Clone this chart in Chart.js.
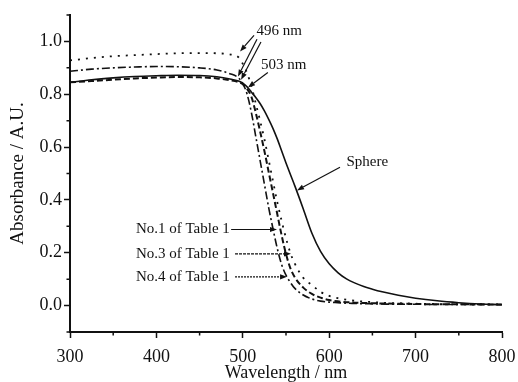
<!DOCTYPE html>
<html>
<head>
<meta charset="utf-8">
<script src="https://cdn.jsdelivr.net/npm/chart.js@4/dist/chart.umd.min.js"></script>
<style>
  html, body { margin: 0; padding: 0; background: #fff; }
  canvas { display: block; }
</style>
</head>
<body>
<canvas id="chart" width="518" height="382"></canvas>
<script>
// --- data ---
const wavelength = [300, 325, 350, 375, 400, 425, 450, 470, 485, 495, 500, 505, 510, 515, 520, 525, 530, 535, 540, 545, 550, 555, 560, 570, 580, 590, 600, 610, 620, 630, 640, 650, 660, 680, 700, 725, 750, 775, 800];

const sphere = [0.845, 0.855, 0.862, 0.867, 0.870, 0.872, 0.871, 0.866, 0.858, 0.850, 0.842, 0.828, 0.808, 0.788, 0.765, 0.737, 0.705, 0.670, 0.630, 0.585, 0.540, 0.497, 0.455, 0.366, 0.274, 0.205, 0.158, 0.125, 0.101, 0.085, 0.072, 0.062, 0.053, 0.039, 0.028, 0.018, 0.011, 0.006, 0.003];
const no1 = [0.845, 0.850, 0.855, 0.860, 0.863, 0.865, 0.864, 0.860, 0.853, 0.846, 0.838, 0.820, 0.790, 0.730, 0.660, 0.585, 0.505, 0.425, 0.345, 0.265, 0.195, 0.142, 0.108, 0.068, 0.044, 0.030, 0.021, 0.016, 0.013, 0.011, 0.010, 0.009, 0.008, 0.007, 0.006, 0.005, 0.005, 0.004, 0.004];
const no3 = [0.928, 0.937, 0.944, 0.948, 0.952, 0.955, 0.956, 0.955, 0.951, 0.940, 0.915, 0.880, 0.830, 0.765, 0.700, 0.630, 0.550, 0.470, 0.390, 0.320, 0.255, 0.200, 0.160, 0.105, 0.078, 0.052, 0.037, 0.028, 0.022, 0.018, 0.015, 0.013, 0.011, 0.009, 0.007, 0.006, 0.005, 0.005, 0.004];
const no4 = [0.887, 0.895, 0.900, 0.903, 0.905, 0.904, 0.900, 0.892, 0.878, 0.862, 0.840, 0.800, 0.730, 0.640, 0.550, 0.460, 0.370, 0.290, 0.215, 0.155, 0.115, 0.088, 0.066, 0.040, 0.025, 0.017, 0.013, 0.011, 0.009, 0.008, 0.007, 0.0065, 0.006, 0.005, 0.005, 0.004, 0.004, 0.004, 0.004];

const xTicks = [300, 400, 500, 600, 700, 800];
const xMinor = [350, 450, 550, 650, 750];
const yTicks = [0.0, 0.2, 0.4, 0.6, 0.8, 1.0];
const yMinor = [-0.1, 0.1, 0.3, 0.5, 0.7, 0.9, 1.1];

const FONT = 'Liberation Serif, Times New Roman, serif';
const INK = '#111';

function pts(ys) {
  return wavelength.map((x, i) => ({ x: x, y: ys[i] }));
}

// minor ticks (Chart.js has none of its own)
const minorTicks = {
  id: 'minorTicks',
  afterDraw(chart) {
    const c = chart.ctx, xs = chart.scales.x, ys = chart.scales.y;
    const a = chart.chartArea;
    c.save();
    c.strokeStyle = INK;
    c.lineWidth = 1.5;
    c.beginPath();
    xMinor.forEach(v => {
      const p = xs.getPixelForValue(v);
      c.moveTo(p, a.bottom); c.lineTo(p, a.bottom + 3.5);
    });
    yMinor.forEach(v => {
      const p = ys.getPixelForValue(v);
      c.moveTo(a.left, p); c.lineTo(a.left - 3.5, p);
    });
    c.stroke();
    c.restore();
  }
};

// labels and arrows, placed in data units
const notes = [
  { text: '496 nm', x: 516, y: 1.038 },
  { text: '503 nm', x: 521, y: 0.909 },
  { text: 'Sphere', x: 620, y: 0.543 },
  { text: 'No.1 of Table 1', x: 485, y: 0.288, right: true },
  { text: 'No.3 of Table 1', x: 485, y: 0.196, right: true },
  { text: 'No.4 of Table 1', x: 485, y: 0.109, right: true }
];
const arrows = [
  { from: [513, 1.023], to: [496.8, 0.962] },
  { from: [516.4, 1.008], to: [494.4, 0.867] },
  { from: [521, 0.998], to: [498, 0.855] },
  { from: [529, 0.882], to: [506, 0.826] },
  { from: [612.5, 0.524], to: [562.7, 0.436] },
  { from: [486.5, 0.288], to: [539.6, 0.288] },
  { from: [491, 0.196], to: [555.8, 0.196], dash: [3, 1] },
  { from: [491, 0.109], to: [551.2, 0.109], dash: [2, 1] }
];

const annotate = {
  id: 'annotate',
  afterDraw(chart) {
    const c = chart.ctx, xs = chart.scales.x, ys = chart.scales.y;
    c.save();
    c.fillStyle = INK;
    c.strokeStyle = INK;
    c.font = '15px ' + FONT;
    c.textBaseline = 'middle';
    notes.forEach(n => {
      c.textAlign = n.right ? 'right' : 'left';
      c.fillText(n.text, xs.getPixelForValue(n.x), ys.getPixelForValue(n.y));
    });
    arrows.forEach(a => {
      const x1 = xs.getPixelForValue(a.from[0]), y1 = ys.getPixelForValue(a.from[1]);
      const x2 = xs.getPixelForValue(a.to[0]), y2 = ys.getPixelForValue(a.to[1]);
      const ang = Math.atan2(y2 - y1, x2 - x1);
      const len = 7, half = 2.6;
      const bx = x2 - len * Math.cos(ang), by = y2 - len * Math.sin(ang);
      c.lineWidth = 1.2;
      c.setLineDash(a.dash || []);
      c.beginPath();
      c.moveTo(x1, y1); c.lineTo(bx, by);
      c.stroke();
      c.setLineDash([]);
      c.beginPath();
      c.moveTo(x2, y2);
      c.lineTo(bx + half * Math.sin(ang), by - half * Math.cos(ang));
      c.lineTo(bx - half * Math.sin(ang), by + half * Math.cos(ang));
      c.closePath();
      c.fill();
    });
    c.restore();
  }
};

const tickFont = { family: FONT, size: 18 };

new Chart(document.getElementById('chart').getContext('2d'), {
  type: 'line',
  data: {
    datasets: [
      { label: 'Sphere', data: pts(sphere), borderColor: INK, borderWidth: 1.6 },
      { label: 'No.1 of Table 1', data: pts(no1), borderColor: INK, borderWidth: 2, borderDash: [6, 3] },
      { label: 'No.3 of Table 1', data: pts(no3), borderColor: INK, borderWidth: 1.8, borderDash: [2, 6] },
      { label: 'No.4 of Table 1', data: pts(no4), borderColor: INK, borderWidth: 1.6, borderDash: [8, 3, 2, 3] }
    ]
  },
  options: {
    responsive: false,
    animation: false,
    events: [],
    layout: { padding: { top: 15, right: 16, left: 0, bottom: 0 } },
    elements: {
      point: { radius: 0 },
      line: { cubicInterpolationMode: 'monotone', fill: false }
    },
    plugins: { legend: { display: false }, tooltip: { enabled: false } },
    scales: {
      x: {
        type: 'linear',
        min: 300,
        max: 800,
        afterBuildTicks: s => { s.ticks = xTicks.map(v => ({ value: v })); },
        afterFit: s => { s.height = 50; s.paddingLeft = 0; s.paddingRight = 0; },
        ticks: { font: tickFont, color: INK, padding: 8, maxRotation: 0, autoSkip: false },
        grid: { drawOnChartArea: false, tickLength: 6, tickColor: INK, tickWidth: 1.5 },
        border: { color: INK, width: 2 },
        title: { display: true, text: 'Wavelength / nm', font: tickFont, color: INK, padding: { top: 0, bottom: -2 } }
      },
      y: {
        min: -0.1,
        max: 1.1,
        afterBuildTicks: s => { s.ticks = yTicks.map(v => ({ value: v })); },
        afterFit: s => { s.width = 70; s.paddingTop = 0; s.paddingBottom = 0; },
        ticks: { font: tickFont, color: INK, padding: 2, callback: v => v.toFixed(1) },
        grid: { drawOnChartArea: false, tickLength: 6, tickColor: INK, tickWidth: 1.5 },
        border: { color: INK, width: 2 },
        title: { display: true, text: 'Absorbance / A.U.', font: { family: FONT, size: 19 }, color: INK, padding: { top: 7, bottom: 0 } }
      }
    }
  },
  plugins: [minorTicks, annotate]
});
</script>
</body>
</html>
